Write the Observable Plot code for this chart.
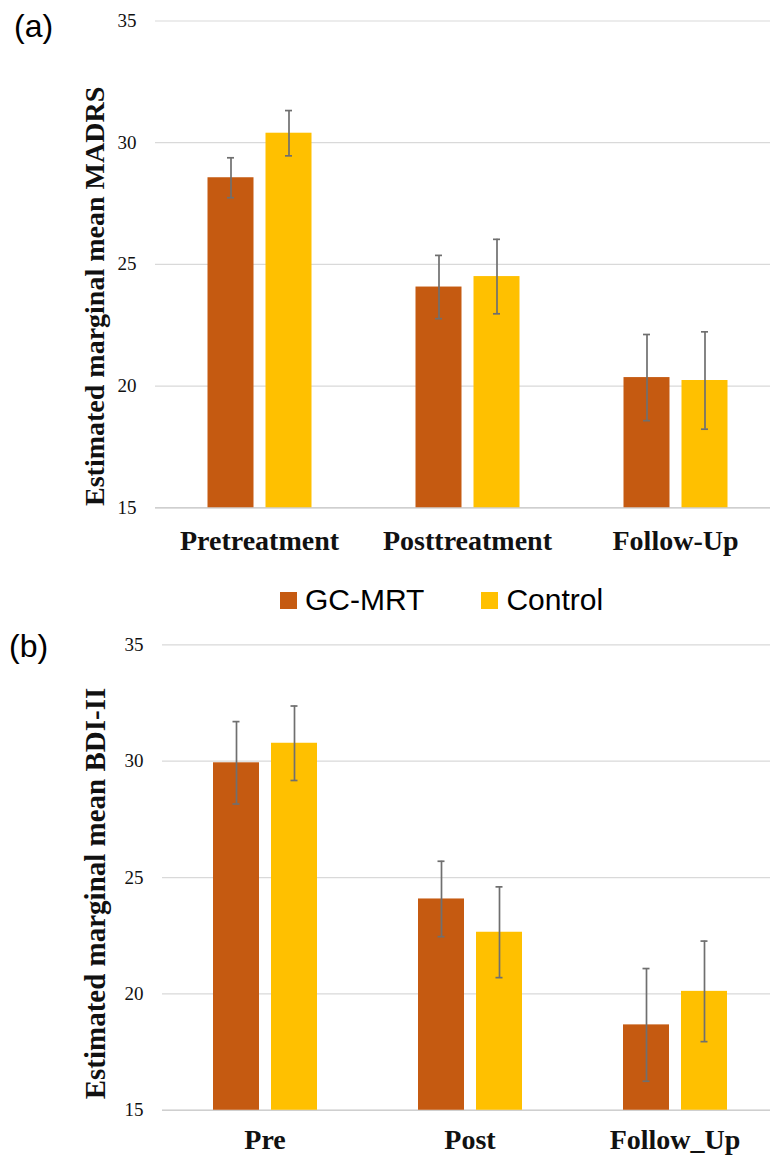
<!DOCTYPE html>
<html><head><meta charset="utf-8">
<script src="https://cdn.jsdelivr.net/npm/d3@7"></script>
<script src="https://cdn.jsdelivr.net/npm/@observablehq/plot@0.6"></script>
<style>
html,body{margin:0;padding:0;background:#fff;overflow:hidden;width:770px;height:1163px}
#wrap{position:relative;width:770px;height:1163px;overflow:hidden;background:#fff}
.panel{position:absolute;left:0;width:780px}
.panel svg{max-width:none !important;width:780px;height:auto}
.tag{position:absolute;font-family:"Liberation Sans",Arial,sans-serif;font-size:32px;line-height:32px;color:#000;z-index:2}
#legend{position:absolute;left:280px;top:585px;height:30px;display:flex;align-items:center;font-family:"Liberation Sans",Arial,sans-serif;font-size:30px;line-height:30px;color:#000;white-space:nowrap;z-index:2}
#legend .sw{width:17px;height:17px;margin-right:8px}
#legend .item{display:flex;align-items:center}
#legend .item + .item{margin-left:57px}
</style>
</head><body>
<div id="wrap">
  <div id="pa" class="panel" style="top:0px"></div>
  <div id="pb" class="panel" style="top:620px"></div>
  <div class="tag" style="left:14px;top:10px">(a)</div>
  <div id="legend"></div>
  <div class="tag" style="left:9px;top:630px">(b)</div>
</div>
<script>
// ---- data ----
const groups = ["GC-MRT", "Control"];
const groupColors = ["#C55A11", "#FFC000"];
const yTicks = [15, 20, 25, 30, 35];

const timesA = ["Pretreatment", "Posttreatment", "Follow-Up"];
const gcA = [28.56, 24.07, 20.35];
const ctrlA = [30.39, 24.5, 20.23];
const gcErrA = [0.82, 1.3, 1.77];
const ctrlErrA = [0.93, 1.53, 2.0];

const timesB = ["Pre", "Post", "Follow_Up"];
const gcB = [29.93, 24.08, 18.67];
const ctrlB = [30.77, 22.65, 20.11];
const gcErrB = [1.77, 1.62, 2.42];
const ctrlErrB = [1.6, 1.95, 2.16];

function rows(times, gc, ctrl, gcErr, ctrlErr) {
  return times.flatMap((t, i) => [
    {time: t, group: groups[0], value: gc[i], err: gcErr[i]},
    {time: t, group: groups[1], value: ctrl[i], err: ctrlErr[i]}
  ]);
}

function panel(cfg) {
  const data = rows(cfg.times, cfg.gc, cfg.ctrl, cfg.gcErr, cfg.ctrlErr);
  const W = 780;
  const errStroke = "#6f6f6f";
  return Plot.plot({
    width: W,
    height: cfg.height,
    marginLeft: cfg.ml,
    marginRight: W - cfg.ml - 3 * cfg.band,
    marginTop: cfg.mt,
    marginBottom: cfg.mb,
    style: {fontFamily: "'Liberation Serif', 'Times New Roman', serif", color: "#111", background: "transparent", overflow: "visible"},
    fx: {domain: cfg.times, padding: 0, label: null},
    x: {domain: groups, axis: null, paddingInner: cfg.pi, paddingOuter: cfg.po},
    y: {domain: [yTicks[0], yTicks[yTicks.length - 1]], label: null},
    color: {domain: groups, range: groupColors},
    marks: [
      Plot.gridY(yTicks, {stroke: "#d9d9d9", strokeOpacity: 1, strokeWidth: 1.2}),
      Plot.ruleY([yTicks[0]], {stroke: "#cfcfcf", strokeWidth: 1.4}),
      Plot.barY(data, {fx: "time", x: "group", y: "value", fill: "group", clip: true}),
      Plot.ruleX(data, {fx: "time", x: "group", y1: d => d.value - d.err, y2: d => d.value + d.err, stroke: errStroke, strokeWidth: 1.7}),
      Plot.tickY(data, {fx: "time", x: "group", y: d => d.value + d.err, stroke: errStroke, strokeWidth: 1.7, insetLeft: 19.5, insetRight: 19.5}),
      Plot.tickY(data, {fx: "time", x: "group", y: d => d.value - d.err, stroke: errStroke, strokeWidth: 1.7, insetLeft: 19.5, insetRight: 19.5}),
      Plot.axisY(yTicks, {tickSize: 0, tickPadding: 19, fontSize: 19, label: null}),
      Plot.axisFx({anchor: "bottom", tickSize: 0, tickPadding: cfg.fxPad, fontSize: 28, fontWeight: "bold", label: null}),
      Plot.text([{time: cfg.times[0], label: cfg.ylabel}], {
        fx: "time", text: "label", frameAnchor: "left", textAnchor: "middle", rotate: -90,
        dx: cfg.ldx, dy: cfg.ldy, fontSize: cfg.lfs, fontWeight: "bold", fill: "#111"
      })
    ]
  });
}

document.getElementById("pa").appendChild(panel({
  times: timesA, gc: gcA, ctrl: ctrlA, gcErr: gcErrA, ctrlErr: ctrlErrA,
  height: 570, ml: 154.5, band: 208, mt: 20.5, mb: 62.7, pi: 0.212, po: 0.887,
  fxPad: 22, ylabel: "Estimated marginal mean MADRS", ldx: -60.5, ldy: 32, lfs: 28
}));

document.getElementById("pb").appendChild(panel({
  times: timesB, gc: gcB, ctrl: ctrlB, gcErr: gcErrB, ctrlErr: ctrlErrB,
  height: 543, ml: 161, band: 205.7, mt: 24.3, mb: 53.2, pi: 0.211, po: 0.87,
  fxPad: 19, ylabel: "Estimated marginal mean BDI-II", ldx: -66.3, ldy: 16, lfs: 29
}));

const legend = document.getElementById("legend");
groups.forEach((g, i) => {
  const item = document.createElement("div");
  item.className = "item";
  const sw = document.createElement("div");
  sw.className = "sw";
  sw.style.background = groupColors[i];
  const t = document.createElement("span");
  t.textContent = g;
  item.appendChild(sw);
  item.appendChild(t);
  legend.appendChild(item);
});
</script>
</body></html>
